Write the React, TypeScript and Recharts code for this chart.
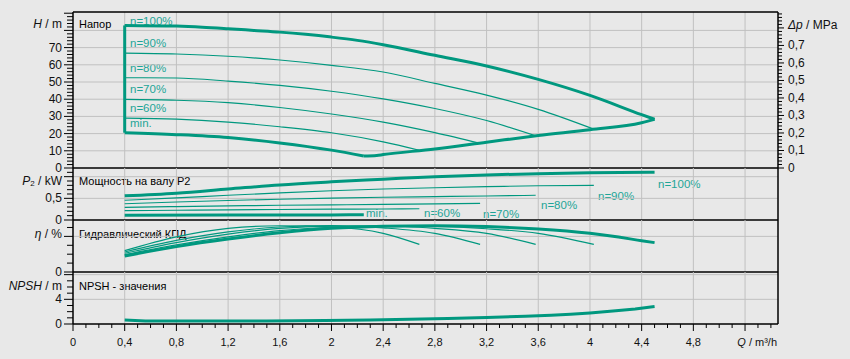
import React from 'react';
import { LineChart, Line, XAxis, YAxis, CartesianGrid, ReferenceLine } from 'recharts';

type Pt = [number, number];

const FONT = '"Liberation Sans", Arial, sans-serif';
const CURVE = '#00987f';
const LABEL = '#1ea597';
const GRID = '#c0c0c0';
const INK = '#111';

// ---------- Q axis ----------
const qMax = 5.455;
const qMajorTicks = [0, 0.4, 0.8, 1.2, 1.6, 2, 2.4, 2.8, 3.2, 3.6, 4, 4.4, 4.8, 5.2];
const qTickLabels = ['0', '0,4', '0,8', '1,2', '1,6', '2', '2,4', '2,8', '3,2', '3,6', '4', '4,4', '4,8', ''];
const qGrid = [0.4, 0.8, 1.2, 1.6, 2, 2.4, 2.8, 3.2, 3.6, 4, 4.4, 4.8, 5.2];
const qAllTicks = Array.from({ length: 55 }, (_, i) => i / 10);

// ---------- Head panel ----------
const hMax = 90.7;
const dpMax = 0.891;
const hGrid = [10, 20, 30, 40, 50, 60, 70, 80];
const hTicks = Array.from({ length: 46 }, (_, i) => i * 2);
const dpTicks = Array.from({ length: 45 }, (_, i) => i / 50);
const speedNames = ['n=100%', 'n=90%', 'n=80%', 'n=70%', 'n=60%', 'min.'];

const head100: Pt[] = [[0.4, 82.9], [0.8, 82.5], [1.0, 81.9], [1.2, 81], [1.4, 80], [1.6, 79], [1.8, 77.7], [2.0, 76.1], [2.2, 74.2], [2.4, 71.7], [2.8, 65.5], [3.2, 59.3], [3.6, 51.5], [4.0, 42.2], [4.4, 31], [4.5, 28.3]];
const head90: Pt[] = [[0.4, 66.8], [0.8, 66.3], [1.2, 65], [1.6, 62.8], [2.0, 59.7], [2.4, 55.8], [2.8, 49.2], [3.2, 42.4], [3.6, 34.1], [4.03, 22.6]];
const head80: Pt[] = [[0.4, 52.5], [0.8, 52.3], [1.2, 50.5], [1.6, 48], [2.0, 44.6], [2.4, 40.2], [2.8, 34.6], [3.2, 27.6], [3.58, 18.7]];
const head70: Pt[] = [[0.4, 39.9], [0.8, 39.4], [1.2, 38], [1.6, 35.2], [2.0, 31.4], [2.4, 26.7], [2.8, 20.6], [3.15, 14.4]];
const head60: Pt[] = [[0.4, 29], [0.8, 28.4], [1.2, 26.7], [1.6, 24], [2.0, 20.5], [2.4, 15.2], [2.68, 10.3]];
const headMin: Pt[] = [[0.4, 20.5], [0.8, 19.4], [1.2, 17.7], [1.6, 14.6], [2.0, 10.4], [2.25, 7.0]];
const headLimit: Pt[] = [[2.25, 7.0], [2.35, 7.3], [2.4, 7.8], [2.8, 11.1], [3.2, 15.0], [3.6, 18.9], [4.0, 22.3], [4.4, 26.3], [4.5, 28.3]];

// ---------- Power panel ----------
const p2Max = 1.2;
const p2Grid = [0.5, 1.0];
const p2Ticks = Array.from({ length: 12 }, (_, i) => i / 10);
const power100: Pt[] = [[0.4, 0.56], [0.8, 0.62], [1.2, 0.715], [1.6, 0.81], [2.0, 0.88], [2.4, 0.94], [2.8, 1.0], [3.2, 1.04], [3.6, 1.07], [4.0, 1.09], [4.5, 1.1]];
const power90: Pt[] = [[0.4, 0.455], [0.8, 0.51], [1.2, 0.57], [1.6, 0.625], [2.0, 0.675], [2.4, 0.715], [2.8, 0.745], [3.2, 0.77], [3.6, 0.79], [4.03, 0.8]];
const power80: Pt[] = [[0.4, 0.375], [0.8, 0.415], [1.2, 0.45], [1.6, 0.48], [2.0, 0.505], [2.4, 0.525], [2.8, 0.54], [3.2, 0.555], [3.58, 0.57]];
const power70: Pt[] = [[0.4, 0.29], [0.8, 0.31], [1.2, 0.325], [1.6, 0.34], [2.0, 0.35], [2.4, 0.36], [2.8, 0.372], [3.15, 0.385]];
const power60: Pt[] = [[0.4, 0.215], [0.8, 0.225], [1.2, 0.235], [1.6, 0.243], [2.0, 0.25], [2.4, 0.255], [2.68, 0.26]];
const powerMin: Pt[] = [[0.4, 0.108], [1.2, 0.113], [2.0, 0.118], [2.25, 0.12]];

// ---------- Efficiency panel ----------
const etaMax = 58.4;
const etaGrid = [40];
const etaTicks = [0, 10, 20, 30, 40, 50];
const eta100: Pt[] = [[0.4, 18], [0.8, 28.5], [1.2, 37], [1.6, 44], [2.0, 49], [2.4, 51.3], [2.8, 52], [3.2, 51], [3.6, 48.3], [4.0, 43.4], [4.4, 35.2], [4.5, 33]];
const eta90: Pt[] = [[0.4, 19.5], [0.8, 30.5], [1.2, 39.5], [1.6, 46.5], [2.0, 50.3], [2.4, 51.9], [2.8, 51.3], [3.2, 48.6], [3.6, 43.4], [4.03, 31]];
const eta80: Pt[] = [[0.4, 21], [0.8, 33], [1.2, 42.5], [1.6, 49], [2.0, 51.5], [2.4, 51.7], [2.8, 49], [3.2, 43.4], [3.58, 31]];
const eta70: Pt[] = [[0.4, 22.5], [0.8, 35.5], [1.2, 45], [1.6, 50.5], [2.0, 52], [2.4, 49.5], [2.8, 43.4], [3.15, 31]];
const eta60: Pt[] = [[0.4, 24], [0.8, 39.5], [1.2, 49], [1.6, 51.9], [2.0, 50.5], [2.4, 43.4], [2.68, 31]];

// ---------- NPSH panel ----------
const npshMax = 8.43;
const npshGrid = [4, 8];
const npshTicks = [0, 1, 2, 3, 4, 5, 6, 7, 8];
const npsh: Pt[] = [[0.4, 0.65], [0.56, 0.5], [1.0, 0.48], [1.5, 0.48], [1.95, 0.55], [2.3, 0.65], [2.6, 0.75], [2.9, 0.9], [3.2, 1.05], [3.5, 1.25], [3.7, 1.42], [3.85, 1.58], [4.0, 1.8], [4.2, 2.15], [4.35, 2.45], [4.5, 2.85]];

const pts = (a: Pt[]) => a.map(([q, v]) => ({ q, v }));

const near = (a: number, b: number) => Math.abs(a - b) < 1e-6;

const mkLeftTick = (isMajor: (v: number) => boolean, label: (v: number) => string) => (props: any) => {
  const { x, y, payload } = props;
  const v = payload.value as number;
  const major = isMajor(v);
  const lbl = label(v);
  return (
    <g>
      <line x1={x - (major ? 9 : 6)} x2={x} y1={y} y2={y} stroke="#000" strokeWidth={1} />
      {lbl ? (
        <text x={x - 11} y={y} textAnchor="end" dominantBaseline="central" fontSize={12} fill={INK} fontFamily={FONT}>
          {lbl}
        </text>
      ) : null}
    </g>
  );
};

const mkRightTick = (isMajor: (v: number) => boolean, label: (v: number) => string) => (props: any) => {
  const { x, y, payload } = props;
  const v = payload.value as number;
  const major = isMajor(v);
  const lbl = label(v);
  return (
    <g>
      <line x1={x} x2={x + (major ? 6 : 4)} y1={y} y2={y} stroke="#000" strokeWidth={1} />
      {lbl ? (
        <text x={x + 10} y={y} textAnchor="start" dominantBaseline="central" fontSize={12} fill={INK} fontFamily={FONT}>
          {lbl}
        </text>
      ) : null}
    </g>
  );
};

const XTick = (props: any) => {
  const { x, y, payload } = props;
  const v = payload.value as number;
  const idx = qMajorTicks.findIndex((m) => near(m, v));
  const major = idx >= 0;
  return (
    <g>
      <line x1={x} x2={x} y1={y} y2={y + (major ? 7 : 4)} stroke="#000" strokeWidth={1} />
      {major && qTickLabels[idx] ? (
        <text x={x} y={y + 17.5} textAnchor="middle" dominantBaseline="central" fontSize={11} fill={INK} fontFamily={FONT}>
          {qTickLabels[idx]}
        </text>
      ) : null}
    </g>
  );
};

const hTick = mkLeftTick((v) => v % 10 === 0, (v) => (v % 10 === 0 && v <= 70 ? String(v) : ''));
const dpTick = mkRightTick(
  (v) => Math.round(v * 100) % 10 === 0,
  (v) => {
    const k = Math.round(v * 100);
    if (k % 10 !== 0 || k > 70) return '';
    return k === 0 ? '0' : (k / 100).toFixed(1).replace('.', ',');
  }
);
const p2Tick = mkLeftTick(
  (v) => Math.round(v * 10) % 5 === 0,
  (v) => {
    const k = Math.round(v * 10);
    return k === 0 ? '0' : k === 5 ? '0,5' : '';
  }
);
const etaTick = mkLeftTick((v) => v === 0 || v === 40, (v) => (v === 0 ? '0' : ''));
const npshTick = mkLeftTick((v) => v % 4 === 0, (v) => (v === 0 || v === 4 ? String(v) : ''));

const thin = 1.15;
const thick = 3;

const curve = (key: string, data: Pt[], w: number, type: 'monotone' | 'linear' = 'monotone') => (
  <Line
    key={key}
    data={pts(data)}
    dataKey="v"
    type={type}
    stroke={CURVE}
    strokeWidth={w}
    dot={false}
    activeDot={false}
    isAnimationActive={false}
    legendType="none"
    strokeLinejoin="round"
  />
);

const hiddenX = (
  <XAxis type="number" dataKey="q" domain={[0, qMax]} allowDataOverflow hide ticks={qGrid} />
);

const rightBorder = (
  <YAxis yAxisId="r" orientation="right" width={72} domain={[0, 1]} tick={false} tickLine={false} axisLine={{ stroke: '#000', strokeWidth: 1.5 }} />
);

export default function App() {
  return (
    <div style={{ position: 'relative', width: 850, height: 359, background: '#e8e8e8', overflow: 'hidden', fontFamily: FONT }}>
      <style>{'body{margin:0;background:#e8e8e8}'}</style>
      <svg width={850} height={359} style={{ position: 'absolute', left: 0, top: 0 }} fontFamily={FONT}>
        {/* axis titles */}
        <text x={62} y={24} textAnchor="end" dominantBaseline="central" fontSize={12} fill={INK}>
          <tspan fontStyle="italic">H</tspan> / m
        </text>
        <text x={62} y={181} textAnchor="end" dominantBaseline="central" fontSize={12} fill={INK}>
          <tspan fontStyle="italic">P</tspan>
          <tspan fontSize={8} dy={2}>2</tspan>
          <tspan dy={-2}> / kW</tspan>
        </text>
        <text x={62} y={233.5} textAnchor="end" dominantBaseline="central" fontSize={12} fill={INK}>
          <tspan fontStyle="italic">η</tspan> / %
        </text>
        <text x={62} y={285.5} textAnchor="end" dominantBaseline="central" fontSize={12} fill={INK}>
          <tspan fontStyle="italic">NPSH</tspan> / m
        </text>
        <text x={788} y={24.5} textAnchor="start" dominantBaseline="central" fontSize={12} fill={INK}>
          <tspan fontStyle="italic">Δp</tspan> / MPa
        </text>
        <text x={777} y={341.5} textAnchor="end" dominantBaseline="central" fontSize={11} fill={INK}>
          <tspan fontStyle="italic">Q</tspan> / m³/h
        </text>
        {/* panel titles */}
        <text x={79} y={24} dominantBaseline="central" fontSize={11} fill="#000">Напор</text>
        <text x={79} y={181} dominantBaseline="central" fontSize={11} fill="#000">Мощность на валу P2</text>
        <text x={79} y={233.5} dominantBaseline="central" fontSize={11} fill="#000">Гидравлический КПД</text>
        <text x={79} y={285.5} dominantBaseline="central" fontSize={11} fill="#000">NPSH - значения</text>
        {/* speed labels, head panel */}
        <g fontSize={11.5} fill={LABEL}>
          <text x={130} y={20.5} dominantBaseline="central">{speedNames[0]}</text>
          <text x={130} y={42.5} dominantBaseline="central">{speedNames[1]}</text>
          <text x={130} y={67.5} dominantBaseline="central">{speedNames[2]}</text>
          <text x={130} y={89} dominantBaseline="central">{speedNames[3]}</text>
          <text x={130} y={108} dominantBaseline="central">{speedNames[4]}</text>
          <text x={130} y={123} dominantBaseline="central">{speedNames[5]}</text>
          {/* power panel */}
          <text x={658} y={183.5} dominantBaseline="central">{speedNames[0]}</text>
          <text x={598} y={195.5} dominantBaseline="central">{speedNames[1]}</text>
          <text x={541} y={205} dominantBaseline="central">{speedNames[2]}</text>
          <text x={483} y={214} dominantBaseline="central">{speedNames[3]}</text>
          <text x={424} y={212.5} dominantBaseline="central">{speedNames[4]}</text>
          <text x={366} y={213} dominantBaseline="central">{speedNames[5]}</text>
        </g>
      </svg>

      {/* Head */}
      <div style={{ position: 'absolute', left: 0, top: 0 }}>
        <LineChart width={850} height={180} margin={{ top: 12, right: 0, bottom: 12, left: 0 }}>
          {hiddenX}
          <YAxis type="number" domain={[0, hMax]} allowDataOverflow width={73} ticks={hTicks} interval={0} tick={hTick} tickLine={false} tickSize={0} tickMargin={0} axisLine={{ stroke: '#000', strokeWidth: 1.5 }} />
          <YAxis yAxisId="r" orientation="right" type="number" domain={[0, dpMax]} allowDataOverflow width={72} ticks={dpTicks} interval={0} tick={dpTick} tickLine={false} tickSize={0} tickMargin={0} axisLine={{ stroke: '#000', strokeWidth: 1.5 }} />
          <CartesianGrid stroke={GRID} verticalValues={qGrid} horizontalValues={hGrid} />
          {curve('h90', head90, thin)}
          {curve('h80', head80, thin)}
          {curve('h70', head70, thin)}
          {curve('h60', head60, thin)}
          {curve('hmin', headMin, thick)}
          {curve('hlim', headLimit, thick)}
          {curve('h100', head100, thick)}
          {curve('hleft', [headMin[0], head100[0]], thick, 'linear')}
          <ReferenceLine y={0} stroke="#000" strokeWidth={1.5} />
          <ReferenceLine y={hMax} stroke="#000" strokeWidth={1.5} />
        </LineChart>
      </div>

      {/* Power */}
      <div style={{ position: 'absolute', left: 0, top: 158 }}>
        <LineChart width={850} height={72} margin={{ top: 10, right: 0, bottom: 10, left: 0 }}>
          {hiddenX}
          <YAxis type="number" domain={[0, p2Max]} allowDataOverflow width={73} ticks={p2Ticks} interval={0} tick={p2Tick} tickLine={false} tickSize={0} tickMargin={0} axisLine={{ stroke: '#000', strokeWidth: 1.5 }} />
          {rightBorder}
          <CartesianGrid stroke={GRID} verticalValues={qGrid} horizontalValues={p2Grid} />
          {curve('p90', power90, thin)}
          {curve('p80', power80, thin)}
          {curve('p70', power70, thin)}
          {curve('p60', power60, thin)}
          {curve('pmin', powerMin, thick)}
          {curve('p100', power100, thick)}
          <ReferenceLine y={0} stroke="#000" strokeWidth={1.5} />
        </LineChart>
      </div>

      {/* Efficiency */}
      <div style={{ position: 'absolute', left: 0, top: 210 }}>
        <LineChart width={850} height={72} margin={{ top: 10, right: 0, bottom: 10, left: 0 }}>
          {hiddenX}
          <YAxis type="number" domain={[0, etaMax]} allowDataOverflow width={73} ticks={etaTicks} interval={0} tick={etaTick} tickLine={false} tickSize={0} tickMargin={0} axisLine={{ stroke: '#000', strokeWidth: 1.5 }} />
          {rightBorder}
          <CartesianGrid stroke={GRID} verticalValues={qGrid} horizontalValues={etaGrid} />
          {curve('e60', eta60, thin)}
          {curve('e70', eta70, thin)}
          {curve('e80', eta80, thin)}
          {curve('e90', eta90, thin)}
          {curve('e100', eta100, thick)}
          <ReferenceLine y={0} stroke="#000" strokeWidth={1.5} />
        </LineChart>
      </div>

      {/* NPSH */}
      <div style={{ position: 'absolute', left: 0, top: 262 }}>
        <LineChart width={850} height={97} margin={{ top: 10, right: 0, bottom: 5, left: 0 }}>
          <XAxis type="number" dataKey="q" domain={[0, qMax]} allowDataOverflow height={30} ticks={qAllTicks} interval={0} tick={XTick} tickLine={false} tickSize={0} tickMargin={0} axisLine={{ stroke: '#000', strokeWidth: 1.5 }} />
          <YAxis type="number" domain={[0, npshMax]} allowDataOverflow width={73} ticks={npshTicks} interval={0} tick={npshTick} tickLine={false} tickSize={0} tickMargin={0} axisLine={{ stroke: '#000', strokeWidth: 1.5 }} />
          {rightBorder}
          <CartesianGrid stroke={GRID} verticalValues={qGrid} horizontalValues={npshGrid} />
          {curve('npsh', npsh, thick, 'linear')}
        </LineChart>
      </div>
    </div>
  );
}
